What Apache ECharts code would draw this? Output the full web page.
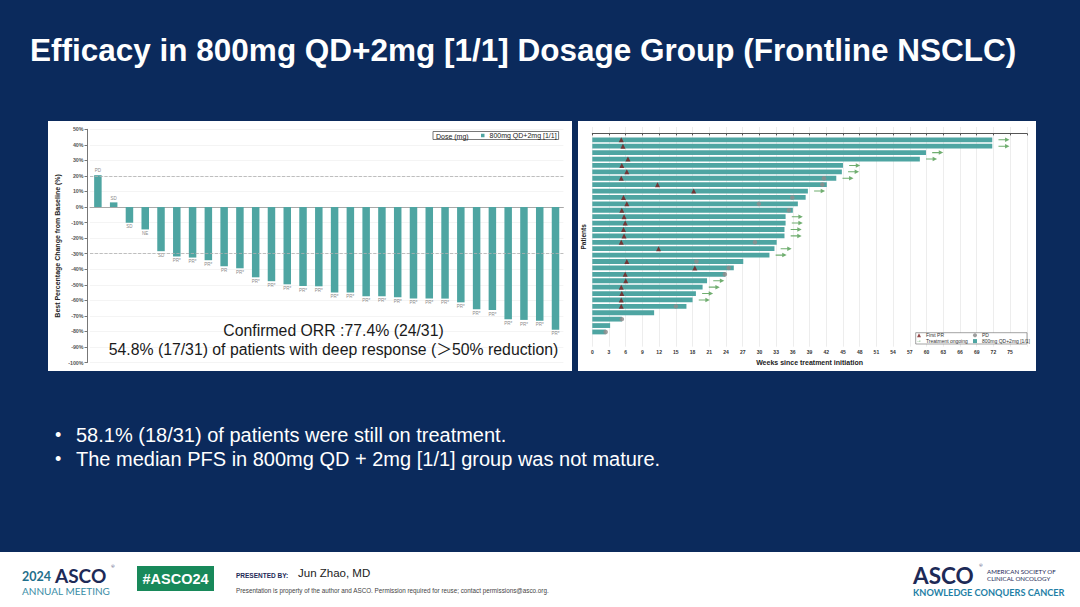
<!DOCTYPE html>
<html>
<head>
<meta charset="utf-8">
<script src="https://cdn.jsdelivr.net/npm/echarts@6/dist/echarts.min.js"></script>
<style>
html,body{margin:0;padding:0;}
body{width:1080px;height:607px;position:relative;background:#0b2a5c;overflow:hidden;}
.panel{position:absolute;background:#fff;}
#chart{position:absolute;left:0;top:0;width:1080px;height:607px;}
</style>
</head>
<body>
<div class="panel" style="left:48px;top:121px;width:524px;height:250px;"></div>
<div class="panel" style="left:578px;top:121px;width:458px;height:250px;"></div>
<div class="panel" style="left:0;top:552px;width:1080px;height:55px;"></div>
<div id="chart"></div>
<script>
// ---------- Waterfall (best % change from baseline) ----------
const wfPatients = ['P01','P02','P03','P04','P05','P06','P07','P08','P09','P10',
                    'P11','P12','P13','P14','P15','P16','P17','P18','P19','P20',
                    'P21','P22','P23','P24','P25','P26','P27','P28','P29','P30'];
const wfChange = [20.5, 3.0, -10.1, -14.4, -28.4, -31.8, -32.5, -34.2, -38.1, -39.4,
                  -45.2, -47.7, -49.7, -50.8, -51.0, -55.0, -55.0, -57.4, -57.4, -58.1,
                  -58.9, -58.9, -58.9, -61.3, -65.8, -66.2, -72.2, -72.6, -73.1, -78.9];
const wfResponse = ['PD','SD','SD','NE','SD','PR*','PR*','PR*','PR','PR*',
                    'PR*','PR*','PR*','PR*','PR*','PR*','PR*','PR*','PR*','PR*',
                    'PR*','PR*','PR*','PR*','PR*','PR*','PR*','PR*','PR*','PR*'];
const wfRefLines = [20, -30];

// ---------- Swimmer plot (weeks since treatment initiation) ----------
const swRow = [1,2,3,4,5,6,7,8,9,10,11,12,13,14,15,16,17,18,19,20,21,22,23,24,25,26,27,28,29,30,31];
const swWeeks = [71.8, 71.8, 59.9, 58.8, 45.0, 44.8, 43.8, 42.1, 38.7, 38.3,
                 36.9, 36.0, 34.7, 34.7, 34.5, 34.5, 33.1, 32.7, 31.8, 27.1,
                 25.4, 23.9, 20.6, 19.8, 18.6, 18.0, 16.9, 11.1, 5.3, 3.2, 2.4];
const swFirstPR = [5.2, 5.5, null, 6.4, 5.3, 6.2, 5.2, 11.7, 18.2, 5.6,
                   6.2, 5.3, 5.7, 5.9, 5.6, 5.7, 5.2, 11.9, null, 6.2,
                   18.4, 5.9, 6.0, 5.2, 5.3, 5.2, 5.2, null, null, null, null];
const swPD = [null, null, null, null, null, null, 41.6, 41.3, null, 35.9,
              29.9, 35.3, null, null, null, null, 29.2, null, null, 18.7,
              24.5, 23.8, null, null, null, null, 15.0, null, 5.3, null, 2.4];
const swOngoing = [1,1,1,1,1,1,1,0,1,0,0,0,1,1,1,1,0,1,1,0,0,0,1,1,1,1,0,0,0,0,0];
const swTickMax = 75;

const doseLabel = '800mg QD+2mg [1/1]';
const teal = '#4ea5a2';
const fontA = '"Liberation Sans", Arial, "Noto Sans CJK SC", sans-serif';
const arrowOffset = 2.1;
const arrowPath = 'path://M0,4.3 L13,4.3 L13,5.7 L0,5.7 Z M12,2 L20,5 L12,8 Z';

const wfData = wfChange.map(v => ({value: v, label: {position: v >= 0 ? 'top' : 'bottom'}}));
const swBarData = swWeeks.map((w, i) => [w, swRow[i]]);
const prData = [], pdData = [], ongoingData = [];
swRow.forEach((r, i) => {
  if (swFirstPR[i] != null) prData.push([swFirstPR[i], r]);
  if (swPD[i] != null) pdData.push([swPD[i], r]);
  if (swOngoing[i]) ongoingData.push([swWeeks[i] + arrowOffset, r]);
});

const chart = echarts.init(document.getElementById('chart'), null, {renderer: 'svg', width: 1080, height: 607});

const smallLeg = {itemWidth: 4, itemHeight: 4, padding: 0, itemGap: 0, selectedMode: false,
  textStyle: {fontSize: 5, color: '#333', fontFamily: fontA}};

function txt(x, y, text, font, fill, align) {
  return {type: 'text', x: x, y: y, silent: true, z: 5,
    style: {text: text, font: font, fill: fill, textAlign: align || 'left', textVerticalAlign: 'middle'}};
}

const option = {
  animation: false,
  backgroundColor: 'transparent',
  textStyle: {fontFamily: fontA},
  title: {
    text: 'Efficacy in 800mg QD+2mg [1/1] Dosage Group (Frontline NSCLC)',
    left: 25, top: 29,
    textStyle: {color: '#ffffff', fontSize: 31.5, fontWeight: 'bold', fontFamily: fontA}
  },
  grid: [
    {left: 90, width: 473.4, top: 129.3, height: 233.2},
    {left: 592.3, width: 434.5, top: 127, height: 219.7}
  ],
  xAxis: [
    {gridIndex: 0, type: 'category', data: wfPatients,
     axisLine: {onZero: true, lineStyle: {color: '#a8a8a8', width: 1}},
     axisTick: {show: false}, axisLabel: {show: false}, splitLine: {show: false}},
    {gridIndex: 1, type: 'value', min: 0, max: 78, interval: 3,
     axisLine: {show: true, lineStyle: {color: '#555', width: 1}},
     axisTick: {show: true, length: 2, lineStyle: {color: '#555'}},
     axisLabel: {fontSize: 5, fontWeight: 'bold', color: '#333', margin: 3,
                 formatter: v => (v > swTickMax ? '' : String(v))},
     splitLine: {show: true, lineStyle: {color: '#e8e8e8', width: 0.8}},
     name: 'Weeks since treatment initiation', nameLocation: 'middle', nameGap: 12.5,
     nameTextStyle: {fontSize: 7, fontWeight: 'bold', color: '#222'}}
  ],
  yAxis: [
    {gridIndex: 0, type: 'value', min: -100, max: 50, interval: 10, offset: 2.5,
     axisLine: {show: true, lineStyle: {color: '#777', width: 1}},
     axisTick: {show: true, length: 3, lineStyle: {color: '#777'}},
     axisLabel: {fontSize: 5.3, fontWeight: 'bold', color: '#555', margin: 4, formatter: '{value}%'},
     splitLine: {show: true, lineStyle: {color: '#f1f1f1', width: 0.8}},
     name: 'Best Percentage Change from Baseline (%)', nameLocation: 'middle', nameGap: 27,
     nameTextStyle: {fontSize: 7, fontWeight: 'bold', color: '#222'}},
    {gridIndex: 1, type: 'value', inverse: true, min: -1, max: 33.3,
     axisLine: {show: false}, axisTick: {show: false}, axisLabel: {show: false}, splitLine: {show: false},
     name: 'Patients', nameLocation: 'middle', nameGap: 6,
     nameTextStyle: {fontSize: 6.5, fontWeight: 'bold', color: '#222'}}
  ],
  legend: [
    {data: [{name: doseLabel, icon: 'rect'}], left: 433, top: 131.5, itemWidth: 3.5, itemHeight: 3.5,
     padding: [0.5, 2, 0.5, 48], borderColor: '#555', borderWidth: 0.8, selectedMode: false,
     textStyle: {fontSize: 7, color: '#222', fontFamily: fontA}},
    Object.assign({data: [{name: 'First PR', icon: 'triangle'}], left: 917, top: 332.8}, smallLeg),
    Object.assign({data: [{name: 'PD', icon: 'circle'}], left: 973, top: 332.8}, smallLeg),
    Object.assign({data: ['Treatment ongoing'], left: 917, top: 338.6}, smallLeg),
    Object.assign({data: [{name: doseLabel, icon: 'rect'}], left: 973, top: 338.6}, smallLeg)
  ],
  series: [
    {type: 'bar', name: doseLabel, xAxisIndex: 0, yAxisIndex: 0, data: wfData, barWidth: 7.5,
     itemStyle: {color: teal},
     label: {show: true, formatter: p => wfResponse[p.dataIndex], fontSize: 4.5, color: '#8a8a8a', distance: 2},
     markLine: {silent: true, symbol: 'none', label: {show: false},
                lineStyle: {type: 'dashed', color: '#b0b0b0', width: 0.8},
                data: wfRefLines.map(v => ({yAxis: v}))}},
    {type: 'custom', name: doseLabel, xAxisIndex: 1, yAxisIndex: 1, data: swBarData,
     encode: {x: 0, y: 1}, itemStyle: {color: teal},
     renderItem: function (params, api) {
       const y = api.value(1);
       const s = api.coord([0, y]);
       const e = api.coord([api.value(0), y]);
       const h = 4.8;
       return {type: 'rect', shape: {x: s[0], y: s[1] - h / 2, width: e[0] - s[0], height: h},
               style: {fill: api.visual('color')}};
     }},
    {type: 'scatter', name: 'PD', xAxisIndex: 1, yAxisIndex: 1, data: pdData, symbol: 'circle',
     symbolSize: 4.5, itemStyle: {color: '#8d8d8d', opacity: 0.85}, z: 3},
    {type: 'scatter', name: 'First PR', xAxisIndex: 1, yAxisIndex: 1, data: prData, symbol: 'triangle',
     symbolSize: 5, itemStyle: {color: '#7a1a1a'}, z: 4},
    {type: 'scatter', name: 'Treatment ongoing', xAxisIndex: 1, yAxisIndex: 1, data: ongoingData,
     symbol: arrowPath, symbolSize: [11, 4.5], itemStyle: {color: '#4c9a4c'}, z: 4}
  ],
  graphic: [
    txt(436, 136.2, 'Dose (mg)', '7px ' + fontA, '#222'),
    {type: 'rect', silent: true, z: 3, shape: {x: 915.7, y: 332.7, width: 111.3, height: 11.3},
     style: {fill: '#fff', stroke: '#666', lineWidth: 0.6}},
    txt(333.5, 330, 'Confirmed ORR :77.4% (24/31)', '15.8px ' + fontA, '#1a1a1a', 'center'),
    txt(333.5, 349, '54.8% (17/31) of patients with deep response (＞50% reduction)', '15.8px ' + fontA, '#1a1a1a', 'center'),
    txt(55, 435, '•', '18px ' + fontA, '#ffffff'),
    txt(76, 435, '58.1% (18/31) of patients were still on treatment.', '20px ' + fontA, '#ffffff'),
    txt(55, 459, '•', '18px ' + fontA, '#ffffff'),
    txt(76, 459, 'The median PFS in 800mg QD + 2mg [1/1] group was not mature.', '20px ' + fontA, '#ffffff'),
    // footer
    txt(22, 576, '2024', 'bold 12.5px Lato', '#1f6f8b'),
    txt(55, 575, 'ASCO', 'bold 19px Lato', '#1d2a57'),
    txt(111, 566.5, '®', '4.5px Lato', '#1d2a57'),
    txt(22, 591, 'ANNUAL MEETING', '10px Lato', '#3a8da6'),
    {type: 'rect', silent: true, z: 4, shape: {x: 137, y: 566, width: 77, height: 25}, style: {fill: '#18895a'}},
    txt(175.5, 578.5, '#ASCO24', 'bold 14.5px ' + fontA, '#ffffff', 'center'),
    txt(236, 575, 'PRESENTED BY:', 'bold 6.5px ' + fontA, '#1d2a57'),
    txt(298, 572.5, 'Jun Zhao, MD', '11.5px ' + fontA, '#222222'),
    txt(236, 590, 'Presentation is property of the author and ASCO. Permission required for reuse; contact permissions@asco.org.', '6.3px ' + fontA, '#444444'),
    txt(913, 575.5, 'ASCO', 'bold 22.5px Lato', '#1d2a57'),
    txt(979, 565.5, '®', '4.5px Lato', '#1d2a57'),
    txt(987, 571, 'AMERICAN SOCIETY OF', '6.2px Lato', '#1d2a57'),
    txt(987, 578, 'CLINICAL ONCOLOGY', '6.2px Lato', '#1d2a57'),
    txt(913, 592, 'KNOWLEDGE CONQUERS CANCER', 'bold 9.2px Lato', '#1f7fa6')
  ]
};
chart.setOption(option);
</script>
</body>
</html>
